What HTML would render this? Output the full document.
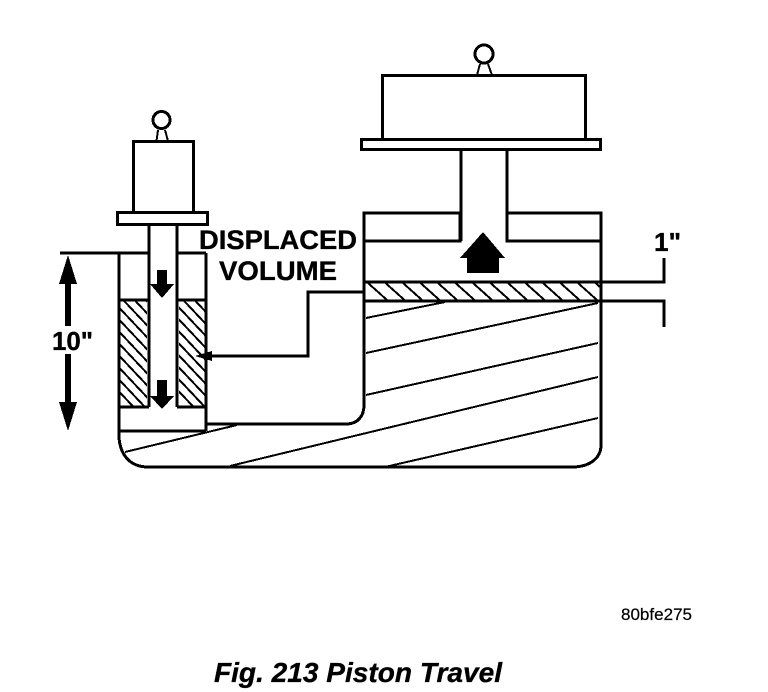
<!DOCTYPE html>
<html>
<head>
<meta charset="utf-8">
<style>
html,body{margin:0;padding:0;background:#fff;width:768px;height:692px;overflow:hidden}
svg{display:block}
text{fill:#000;font-family:"Liberation Sans",sans-serif}
.b{font-weight:bold;stroke:#000;stroke-width:.35px}
</style>
</head>
<body>
<svg width="768" height="692" viewBox="0 0 768 692" xmlns="http://www.w3.org/2000/svg">
<defs>
<clipPath id="c1"><rect x="120" y="301" width="27" height="105"/></clipPath>
<clipPath id="c2"><rect x="179" y="301" width="26" height="105"/></clipPath>
<clipPath id="c3"><rect x="365" y="283" width="235" height="17"/></clipPath>
</defs>
<g fill="none" stroke="#000" stroke-width="2" shape-rendering="crispEdges">
<!-- tank diagonals -->
<path d="M366 318L445 302M366 353L598 303M366 395L598 343M230 466L598 377M385 467L598 418M125 452L237 425"/>
<!-- small hatches -->
<g clip-path="url(#c1)">
<path d="M110 250l50 53M110 262l50 53M110 274l50 53M110 286l50 53M110 298l50 53M110 310l50 53M110 322l50 53M110 334l50 53M110 346l50 53M110 358l50 53M110 370l50 53M110 382l50 53"/>
</g>
<g clip-path="url(#c2)">
<path d="M170 250l50 53M170 262l50 53M170 274l50 53M170 286l50 53M170 298l50 53M170 310l50 53M170 322l50 53M170 334l50 53M170 346l50 53M170 358l50 53M170 370l50 53M170 382l50 53"/>
</g>
<g clip-path="url(#c3)">
<path d="M368 283l19 17M385.500 283l19 17M403 283l19 17M420.500 283l19 17M438 283l19 17M455.500 283l19 17M473 283l19 17M490.500 283l19 17M508 283l19 17M525.500 283l19 17M543 283l19 17M560.500 283l19 17M578 283l19 17M595.500 283l19 17"/>
</g>
</g>
<g fill="none" stroke="#000" stroke-width="3" shape-rendering="crispEdges">
<!-- small piston -->
<circle cx="161.500" cy="120" r="8.500"/>
<path d="M158 130L156.500 141M165 130L168 141" stroke-width="2"/>
<rect x="133.500" y="141.500" width="60" height="71"/>
<rect x="117.500" y="212.500" width="90" height="12"/>
<path d="M149 224V407M177 224V407"/>
<!-- small cylinder -->
<path d="M60 253H149M177 253H206M119 253V431M206 253V431M119 300H149M177 300H206M119 407H149M177 407H206M119 431H206"/>
<!-- tank outline -->
<path d="M119 431C118 452 128 467 148 467H572C590 467 601 458 601 445V213H507V241H601M364 405V213H460V241H364"/>
<path d="M206 424H346C358 424 364 416 364 405" />
<!-- big piston -->
<circle cx="484" cy="54" r="9"/>
<path d="M480 64L477 75M488 64L492 75" stroke-width="2"/>
<rect x="382.500" y="75.500" width="203" height="64"/>
<rect x="361.500" y="139.500" width="239" height="10"/>
<path d="M461 150V241M507 150V213"/>
<!-- hatch band and dims -->
<path d="M364 282H664V258M364 301H664V327"/>
<!-- leader -->
<path d="M364 292H308V356H206"/>
</g>
<g fill="#000" stroke="none" shape-rendering="crispEdges">
<!-- 10 inch arrow -->
<rect x="65" y="280" width="6" height="46"/>
<rect x="65" y="354" width="6" height="50"/>
<path d="M68 255L77 284H59Z"/>
<path d="M68 431L77 402H59Z"/>
<!-- small arrows -->
<path d="M157 270H167V284H174L162 298L150 284H157Z"/>
<path d="M157 380H167V396H174L162 409L150 396H157Z"/>
<!-- leader arrow -->
<path d="M195 356L212 351V361Z"/>
<!-- big arrow -->
<path d="M483 232L505 258H499V273H467V258H460Z"/>
</g>
<text class="b" x="199" y="249" font-size="27" textLength="158" lengthAdjust="spacingAndGlyphs">DISPLACED</text>
<text class="b" x="219" y="280" font-size="27" textLength="118" lengthAdjust="spacingAndGlyphs">VOLUME</text>
<text class="b" x="52" y="350" font-size="26" textLength="41" lengthAdjust="spacingAndGlyphs">10"</text>
<text class="b" x="654" y="251" font-size="26" textLength="27" lengthAdjust="spacingAndGlyphs">1"</text>
<text x="621" y="620" font-size="17" stroke="#000" stroke-width=".2" textLength="71" lengthAdjust="spacingAndGlyphs">80bfe275</text>
<text class="b" font-style="italic" x="214" y="682" font-size="28" textLength="288" lengthAdjust="spacingAndGlyphs">Fig. 213 Piston Travel</text>
</svg>
</body>
</html>
